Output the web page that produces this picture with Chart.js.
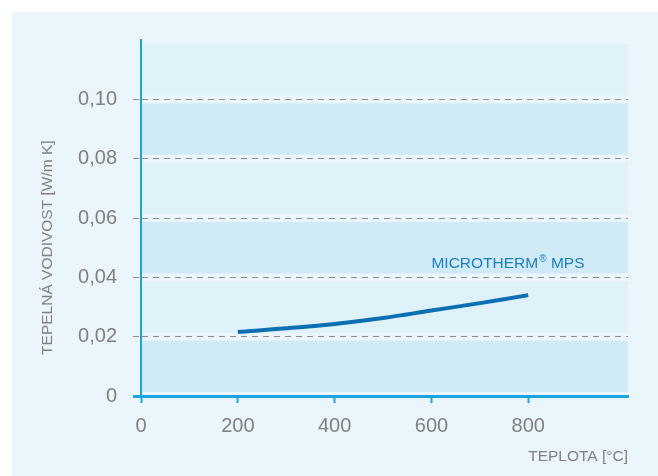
<!DOCTYPE html>
<html>
<head>
<meta charset="utf-8">
<script src="https://cdn.jsdelivr.net/npm/chart.js@4"></script>
<style>
html, body { margin: 0; padding: 0; background: #fff; }
</style>
</head>
<body>
<canvas id="myChart" width="658" height="476"></canvas>
<script>
var temperatures = [200, 300, 400, 500, 600, 700, 800];
var conductivity = [0.0216, 0.0228, 0.0243, 0.0263, 0.0288, 0.0313, 0.0340];
var seriesName = ['MICROTHERM', '®', ' MPS'];
var xTicks = [0, 200, 400, 600, 800];
var yTicks = [0, 0.02, 0.04, 0.06, 0.08, 0.10];
var yTickLabels = ['0', '0,02', '0,04', '0,06', '0,08', '0,10'];
var xTitle = 'TEPLOTA [°C]';
var yTitle = 'TEPELNÁ VODIVOST [W/m K]';

var FONT = '"Liberation Sans", Arial, sans-serif';
var GRAY = '#808080';
var AXIS_BLUE = '#1ba3e2';
var labelAt = { x: 600, y: 0.043 }; // where the series name sits, in data units

var points = temperatures.map(function (t, i) {
    return { x: t, y: conductivity[i] };
});

// panel, banded background, series name and y title
var decor = {
    id: 'decor',
    beforeDraw: function (chart) {
        var c = chart.ctx, a = chart.chartArea, ys = chart.scales.y;
        c.save();
        c.fillStyle = '#ffffff';
        c.fillRect(0, 0, chart.width, chart.height);
        c.fillStyle = '#eaf5fc';
        c.fillRect(12, 12, chart.width - 12, chart.height - 12);
        var edges = yTicks.concat([ys.max]);
        for (var i = 0; i < edges.length - 1; i++) {
            var top = ys.getPixelForValue(edges[i + 1]) + 4;
            var bottom = ys.getPixelForValue(edges[i]) - 4;
            c.fillStyle = i % 2 === 0 ? '#d0ebf7' : '#dff1f9';
            c.fillRect(a.left + 1, top, a.right - a.left - 1, bottom - top);
        }
        c.restore();
    },
    afterDatasetsDraw: function (chart) {
        var c = chart.ctx;
        var x = chart.scales.x.getPixelForValue(labelAt.x);
        var y = chart.scales.y.getPixelForValue(labelAt.y);
        c.save();
        c.fillStyle = '#1a7fc1';
        c.textBaseline = 'alphabetic';
        c.textAlign = 'left';
        c.font = '15.5px ' + FONT;
        c.fillText(seriesName[0], x, y);
        x += c.measureText(seriesName[0]).width + 1;
        c.font = '10px ' + FONT;
        c.fillText(seriesName[1], x, y - 6);
        x += c.measureText(seriesName[1]).width;
        c.font = '15.5px ' + FONT;
        c.fillText(seriesName[2], x, y);
        c.restore();
    },
    afterDraw: function (chart) {
        var c = chart.ctx, ys = chart.scales.y;
        var mid = (ys.getPixelForValue(0) + ys.getPixelForValue(0.10)) / 2;
        c.save();
        c.translate(48, mid);
        c.rotate(-Math.PI / 2);
        c.font = '15.5px ' + FONT;
        c.fillStyle = GRAY;
        c.textAlign = 'center';
        c.textBaseline = 'middle';
        c.fillText(yTitle, 0, 0);
        c.restore();
    }
};

var ctx = document.getElementById('myChart').getContext('2d');
var myChart = new Chart(ctx, {
    type: 'line',
    data: {
        datasets: [{
            label: seriesName.join(''),
            data: points,
            borderColor: '#0a6fb3',
            borderWidth: 4,
            pointRadius: 0,
            tension: 0.4,
            fill: false
        }]
    },
    options: {
        responsive: false,
        animation: false,
        layout: { padding: { top: 40, right: 30, left: 0, bottom: 0 } },
        plugins: {
            legend: { display: false },
            tooltip: { enabled: false }
        },
        scales: {
            x: {
                type: 'linear',
                min: 0,
                max: 1006,
                afterBuildTicks: function (scale) {
                    scale.ticks = xTicks.map(function (v) { return { value: v }; });
                },
                afterFit: function (scale) { scale.height = 80; },
                border: { color: AXIS_BLUE, width: 3 },
                grid: {
                    drawOnChartArea: false,
                    drawTicks: true,
                    tickLength: 7,
                    tickColor: AXIS_BLUE,
                    tickWidth: 2
                },
                ticks: {
                    padding: 11,
                    color: GRAY,
                    font: { family: FONT, size: 20 },
                    maxRotation: 0
                },
                title: {
                    display: true,
                    text: xTitle,
                    align: 'end',
                    color: GRAY,
                    font: { family: FONT, size: 15.5 },
                    padding: { top: 0, bottom: 10 }
                }
            },
            y: {
                min: 0,
                max: 0.12,
                afterBuildTicks: function (scale) {
                    scale.ticks = yTicks.map(function (v) { return { value: v }; });
                },
                afterFit: function (scale) { scale.width = 141; },
                border: {
                    color: AXIS_BLUE,
                    width: 2,
                    dash: function (c) { return c.type === 'tick' ? [6, 5] : []; }
                },
                grid: {
                    color: function (c) { return c.tick && c.tick.value === 0 ? 'rgba(0,0,0,0)' : '#8c8c8c'; },
                    lineWidth: 1,
                    drawTicks: true,
                    tickLength: 8,
                    tickColor: function (c) { return c.tick && c.tick.value === 0 ? AXIS_BLUE : '#8c8c8c'; },
                    tickWidth: function (c) { return c.tick && c.tick.value === 0 ? 3 : 1; },
                    tickBorderDash: function (c) { return c.tick && c.tick.value === 0 ? [] : [6, 5]; }
                },
                ticks: {
                    padding: 16,
                    color: GRAY,
                    font: { family: FONT, size: 20 },
                    callback: function (value) {
                        return yTickLabels[yTicks.indexOf(value)];
                    }
                }
            }
        }
    },
    plugins: [decor]
});
</script>
</body>
</html>
